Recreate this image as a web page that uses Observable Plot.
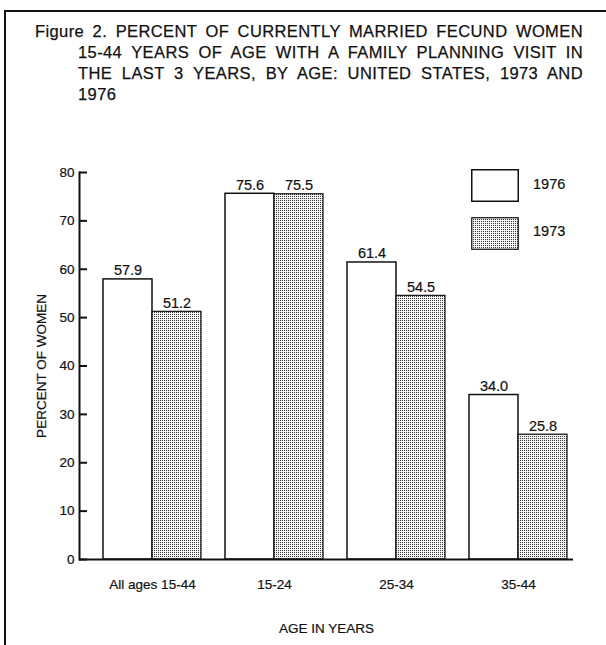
<!DOCTYPE html>
<html>
<head>
<meta charset="utf-8">
<script src="https://cdn.jsdelivr.net/npm/d3@7"></script>
<script src="https://cdn.jsdelivr.net/npm/@observablehq/plot@0.6"></script>
<style>
  html, body { margin: 0; padding: 0; background: white; }
  #page { position: relative; width: 606px; height: 645px; overflow: hidden; background: white;
          font-family: "Liberation Sans", Arial, Helvetica, sans-serif; color: #111; }
  #borderLeft { position: absolute; left: 4px; top: 10px; width: 2px; height: 640px; background: #111; }
  #borderTop { position: absolute; left: 4px; top: 10px; width: 602px; height: 2px; background: #111; }
  .tl { position: absolute; font-size: 16.5px; line-height: 21px; white-space: nowrap; letter-spacing: 0.4px;
        -webkit-text-stroke: 0.25px #111; }
  .just { text-align: justify; text-align-last: justify; white-space: normal; }
  #chart { position: absolute; left: 0; top: 150px; }
  #chart svg text { stroke: #111; stroke-width: 0.2px; }
  .legbox { position: absolute; left: 471px; width: 48px; height: 33px; }
  .legtxt { position: absolute; left: 533px; font-size: 14.5px; line-height: 16px; -webkit-text-stroke: 0.2px #111; }
</style>
</head>
<body>
<svg width="0" height="0" style="position:absolute">
  <defs>
    <pattern id="dots" width="2" height="2" patternUnits="userSpaceOnUse">
      <rect width="2" height="2" fill="#f4f4f4"></rect>
      <rect width="1" height="1" fill="#3a3a3a"></rect>
    </pattern>
  </defs>
</svg>
<div id="page">
  <div id="borderLeft"></div>
  <div id="borderTop"></div>
  <div class="tl just" style="left:35px; top:21px; width:548px;">Figure 2. PERCENT OF CURRENTLY MARRIED FECUND WOMEN</div>
  <div class="tl just" style="left:78px; top:42px; width:505px;">15-44 YEARS OF AGE WITH A FAMILY PLANNING VISIT IN</div>
  <div class="tl just" style="left:78px; top:63px; width:505px;">THE LAST 3 YEARS, BY AGE: UNITED STATES, 1973 AND</div>
  <div class="tl" style="left:78px; top:84px;">1976</div>
  <div id="chart"></div>
  <svg class="legbox" style="top:169px" viewBox="0 0 48 33"><rect x="0.75" y="0.75" width="46.5" height="31.5" fill="white" stroke="#111" stroke-width="1.5"></rect></svg>
  <div class="legtxt" style="top:176px">1976</div>
  <svg class="legbox" style="top:217px" viewBox="0 0 48 33"><rect x="0.75" y="0.75" width="46.5" height="31.5" fill="url(#dots)" stroke="#111" stroke-width="1.2"></rect></svg>
  <div class="legtxt" style="top:223px">1973</div>
</div>
<script>
const ages = ["All ages 15-44", "15-24", "25-34", "35-44"];
const values1976 = [57.9, 75.6, 61.4, 34.0];
const values1973 = [51.2, 75.5, 54.5, 25.8];
const yTicks = [0, 10, 20, 30, 40, 50, 60, 70, 80];

const d1976 = ages.map((a, i) => ({age: a, value: values1976[i]}));
const d1973 = ages.map((a, i) => ({age: a, value: values1973[i]}));

const half = 49;
const chart = Plot.plot({
  width: 606,
  height: 495,
  marginTop: 22,
  marginBottom: 86,
  marginLeft: 79,
  marginRight: 33,
  style: {fontFamily: '"Liberation Sans", Arial, Helvetica, sans-serif', fontSize: "13px", color: "#111", background: "transparent", overflow: "visible"},
  x: {domain: ages, range: [90.25, 580.25], paddingInner: 0.2, paddingOuter: 0.1},
  y: {domain: [0, 80]},
  marks: [
    Plot.barY(d1976, {x: "age", y: "value", fill: "white", stroke: "#111", strokeWidth: 1.5, insetRight: half}),
    Plot.barY(d1973, {x: "age", y: "value", fill: "url(#dots)", stroke: "#111", strokeWidth: 1.2, insetLeft: half}),
    Plot.text(d1976, {x: "age", y: "value", text: d => d.value.toFixed(1), dx: -half / 2, dy: -4, lineAnchor: "bottom", fontSize: 14.5, fill: "#111"}),
    Plot.text(d1973, {x: "age", y: "value", text: d => d.value.toFixed(1), dx: half / 2, dy: -4, lineAnchor: "bottom", fontSize: 14.5, fill: "#111"}),
    Plot.ruleY([0], {stroke: "#111", strokeWidth: 2}),
    Plot.frame({anchor: "left", stroke: "#111", strokeWidth: 2}),
    Plot.tickY(yTicks, {y: d => d, insetRight: 486, stroke: "#111", strokeWidth: 2}),
    Plot.axisY({ticks: yTicks, tickSize: 0, tickPadding: 5, tickFormat: d => String(d), fontSize: 13.5,
                label: "PERCENT OF WOMEN", labelAnchor: "center", labelOffset: 43, labelArrow: false}),
    Plot.axisX({tickSize: 0, tickPadding: 20, fontSize: 13.5,
                label: "AGE IN YEARS", labelAnchor: "center", labelOffset: 73, labelArrow: false})
  ]
});
document.getElementById("chart").appendChild(chart);
</script>
</body>
</html>
